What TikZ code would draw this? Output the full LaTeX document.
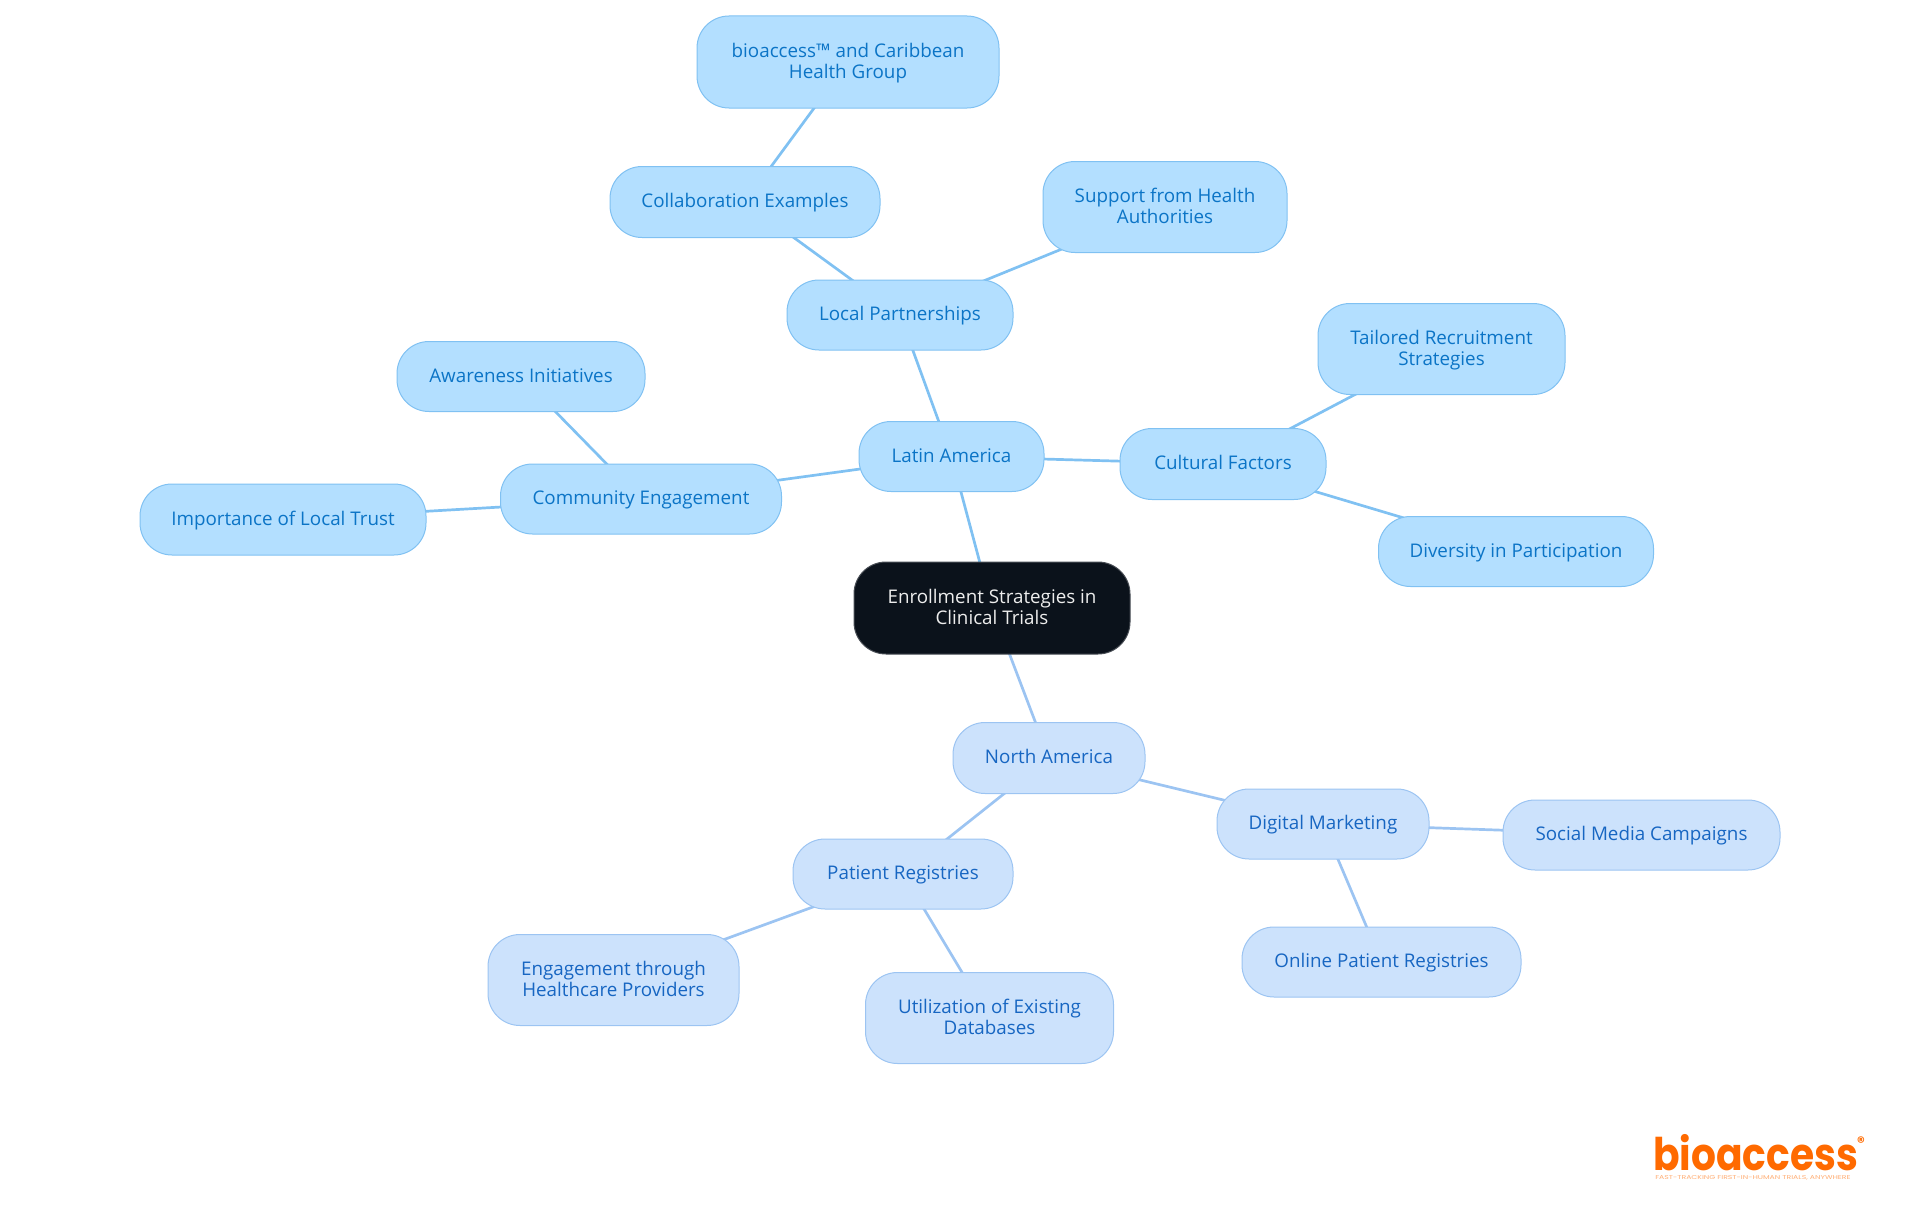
\documentclass[tikz,border=0pt]{standalone}
\usepackage{fontspec}
\setmainfont{Open Sans}
\newfontfamily\logofont{Poppins}
\usetikzlibrary{backgrounds}
\definecolor{upfill}{HTML}{B3DFFF}
\definecolor{updraw}{HTML}{80C1F2}
\definecolor{uptext}{HTML}{0B74C6}
\definecolor{lofill}{HTML}{CCE2FC}
\definecolor{lodraw}{HTML}{9CC4F2}
\definecolor{lotext}{HTML}{1766C2}
\definecolor{rootfill}{HTML}{0B121B}
\definecolor{logoorange}{HTML}{FF6A00}
\tikzset{
  base/.style={rectangle,rounded corners=32pt,line width=1pt,inner sep=0pt,align=center,
    font=\fontsize{18.8}{21}\selectfont,text depth=2.4pt},
  upnode/.style={base,fill=upfill,draw=updraw,text=uptext},
  lonode/.style={base,fill=lofill,draw=lodraw,text=lotext},
  rootnode/.style={base,fill=rootfill,draw=rootfill!75!white,text=white!93!black},
  box/.style n args={2}{minimum width=#1pt,minimum height=#2pt},
  upline/.style={draw=updraw,line width=2.7pt},
  loline/.style={draw=lodraw,line width=2.7pt},
}
\begin{document}
\begin{tikzpicture}[x=1pt,y=-1pt]
\useasboundingbox (0,0) rectangle (1920,1215);
\node[rootnode,box={276}{92}] (root) at (992,608) {Enrollment Strategies in\\Clinical Trials};
\node[upnode,box={302}{92}] (bio) at (848,62) {bioaccess™ and Caribbean\\Health Group};
\node[upnode,box={270}{71}] (collab) at (745,202) {Collaboration Examples};
\node[upnode,box={244}{91}] (support) at (1165,207) {Support from Health\\Authorities};
\node[upnode,box={226}{70}] (local) at (900,315) {Local Partnerships};
\node[upnode,box={247}{91}] (tailored) at (1441.5,349) {Tailored Recruitment\\Strategies};
\node[upnode,box={185}{70}] (latin) at (951.5,456.5) {Latin America};
\node[upnode,box={206}{71}] (cultural) at (1223,464) {Cultural Factors};
\node[upnode,box={275}{70}] (diversity) at (1516,551.5) {Diversity in Participation};
\node[upnode,box={248}{70}] (aware) at (521,376.5) {Awareness Initiatives};
\node[upnode,box={281}{70}] (community) at (641,499) {Community Engagement};
\node[upnode,box={286}{71}] (trust) at (283,519.5) {Importance of Local Trust};
\node[lonode,box={192}{71}] (north) at (1049,758) {North America};
\node[lonode,box={212}{70}] (digital) at (1323,824) {Digital Marketing};
\node[lonode,box={277}{70}] (social) at (1641.5,835) {Social Media Campaigns};
\node[lonode,box={279}{70}] (online) at (1381.5,962) {Online Patient Registries};
\node[lonode,box={220}{70}] (patient) at (903,874) {Patient Registries};
\node[lonode,box={251}{91}] (engage) at (613.5,980) {Engagement through\\Healthcare Providers};
\node[lonode,box={248}{91}] (util) at (989.5,1018) {Utilization of Existing\\Databases};
\begin{scope}[on background layer]
\draw[upline] (root.center) -- (latin.center);
\draw[upline] (latin.center) -- (local.center);
\draw[upline] (local.center) -- (collab.center);
\draw[upline] (collab.center) -- (bio.center);
\draw[upline] (local.center) -- (support.center);
\draw[upline] (latin.center) -- (cultural.center);
\draw[upline] (cultural.center) -- (tailored.center);
\draw[upline] (cultural.center) -- (diversity.center);
\draw[upline] (latin.center) -- (community.center);
\draw[upline] (community.center) -- (aware.center);
\draw[upline] (community.center) -- (trust.center);
\draw[loline] (root.center) -- (north.center);
\draw[loline] (north.center) -- (digital.center);
\draw[loline] (digital.center) -- (social.center);
\draw[loline] (digital.center) -- (online.center);
\draw[loline] (north.center) -- (patient.center);
\draw[loline] (patient.center) -- (engage.center);
\draw[loline] (patient.center) -- (util.center);
\end{scope}
\node[anchor=base west,inner sep=0pt,xscale=0.87,text=logoorange,font=\logofont\bfseries\fontsize{45}{45}\selectfont] (logo) at (1653,1170) {bioaccess};
\node[anchor=center,inner sep=0pt,text=logoorange,font=\logofont\bfseries\fontsize{15}{15}\selectfont] (reg) at (1861,1142) {®};
\node[anchor=base west,inner sep=0pt,xscale=1.38,text=logoorange!55!white,font=\logofont\fontsize{5.6}{6}\selectfont] (tag) at (1655,1179.5) {FAST-TRACKING FIRST-IN-HUMAN TRIALS, ANYWHERE};
\end{tikzpicture}
\end{document}
